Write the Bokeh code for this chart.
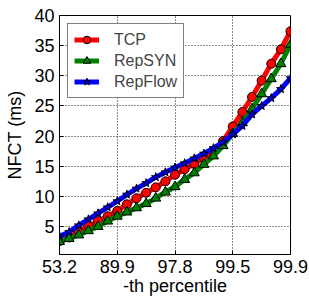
from bokeh.plotting import figure
from bokeh.models import Range1d, FixedTicker, Legend
from bokeh.embed import file_html
from bokeh.resources import INLINE

tick_labels = ["53.2", "89.9", "97.8", "99.5", "99.9"]
y_ticks = [5, 10, 15, 20, 25, 30, 35, 40]

tcp = [2.6, 3.2, 4.2, 5.1, 5.9, 6.7, 7.6, 8.7, 9.7, 10.6, 11.5, 12.5, 13.6,
       14.5, 15.4, 16.4, 17.6, 19.2, 21.6, 24.0, 26.5, 29.2, 32.0, 34.4, 37.4]
repsyn = [2.5, 3.0, 3.6, 4.3, 5.0, 5.9, 6.7, 7.4, 8.1, 8.8, 9.7, 10.7, 11.6,
          12.8, 13.9, 15.3, 16.7, 18.4, 20.4, 22.2, 24.5, 27.0, 29.5, 32.0, 35.2]
repflow = [3.4, 4.1, 5.2, 6.2, 7.2, 8.2, 9.2, 10.3, 11.3, 12.2, 13.2, 14.0, 14.8,
           15.5, 16.3, 17.1, 18.0, 19.0, 20.3, 21.7, 23.6, 25.0, 26.3, 27.8, 29.6]

n = len(tcp)
xs = list(range(n))
step = (n - 1) // (len(tick_labels) - 1)
x_tick_pos = [i * step for i in range(len(tick_labels))]

FONT = "Liberation Sans"

p = figure(width=309, height=301, output_backend="svg", toolbar_location=None,
           x_range=Range1d(0, n - 1), y_range=Range1d(0.37, 40),
           min_border_left=59, min_border_right=19, min_border_top=15,
           min_border_bottom=47)
p.outline_line_color = "black"
p.outline_line_width = 1
p.background_fill_color = "white"

for ax in [p.xaxis[0], p.yaxis[0]]:
    ax.major_tick_in = 4
    ax.major_tick_out = 0
    ax.minor_tick_in = 0
    ax.minor_tick_out = 0
    ax.major_label_text_font = FONT
    ax.major_label_text_font_size = "18px"
    ax.major_label_text_color = "black"
    ax.axis_label_text_font = FONT
    ax.axis_label_text_font_size = "18px"
    ax.axis_label_text_font_style = "normal"
    ax.axis_label_text_color = "black"
    ax.axis_line_color = "black"
    ax.major_tick_line_color = "black"

p.xaxis.major_label_standoff = 5
p.yaxis.major_label_standoff = 5
p.xaxis.ticker = FixedTicker(ticks=x_tick_pos)
p.xaxis.major_label_overrides = {pos: lbl for pos, lbl in zip(x_tick_pos, tick_labels)}
p.yaxis.ticker = FixedTicker(ticks=y_ticks)
p.xaxis.axis_label = "-th percentile"
p.yaxis.axis_label = "NFCT (ms)"
p.xaxis.axis_label_standoff = 0
p.yaxis.axis_label_standoff = 6

p.xgrid.ticker = FixedTicker(ticks=x_tick_pos)
p.ygrid.ticker = FixedTicker(ticks=y_ticks)
for g in (p.xgrid[0], p.ygrid[0]):
    g.grid_line_color = "black"
    g.grid_line_dash = "1 2"
    g.grid_line_width = 1
    g.grid_line_alpha = 0.9

items = []
series = [("TCP", tcp, "#ff0000", "circle", 9),
          ("RepSYN", repsyn, "#008000", "triangle", 10),
          ("RepFlow", repflow, "#0000ff", "star", 9)]
for name, ys, col, marker, sz in series:
    l = p.line(xs, ys, line_color=col, line_width=5)
    s = p.scatter(xs, ys, marker=marker, size=sz, fill_color=col,
                  line_color="black", line_width=1)
    items.append((name, [l, s]))

legend = Legend(items=items, location="top_left", margin=8, padding=6, spacing=2,
                glyph_width=25, glyph_height=19, label_standoff=15,
                label_text_font=FONT, label_text_font_size="16px",
                border_line_color="black", border_line_width=1,
                background_fill_color="white", background_fill_alpha=1)
p.add_layout(legend)

open("out.html", "w").write(file_html(p, INLINE))
